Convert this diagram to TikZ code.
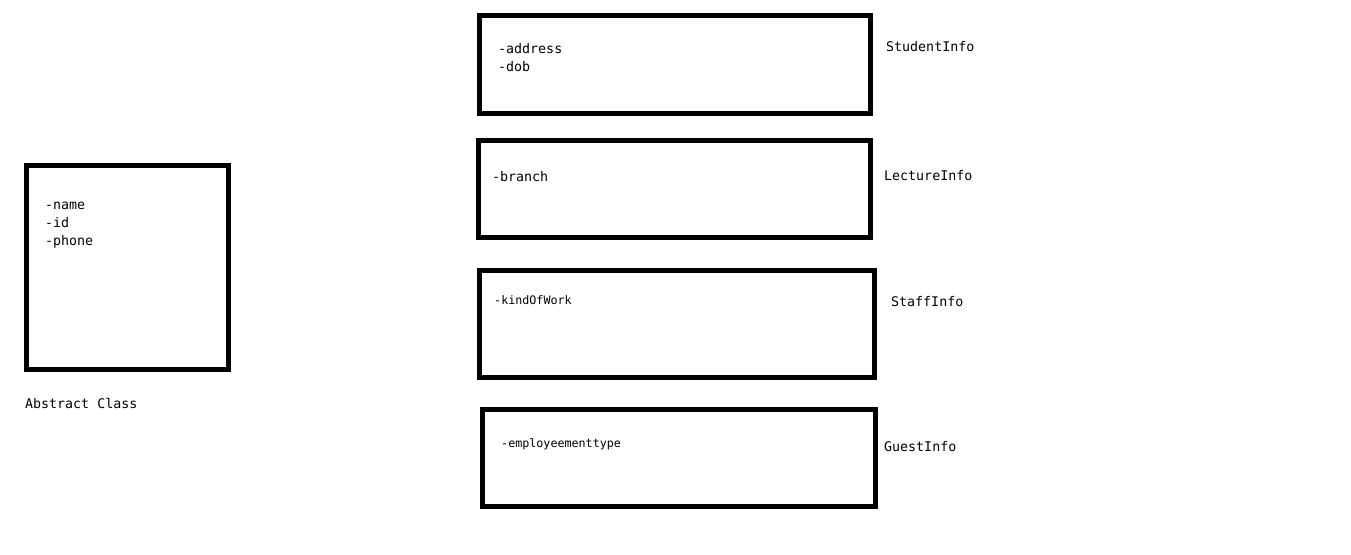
\documentclass[tikz,border=0pt]{standalone}
\usepackage{fontspec}
\setmonofont{DejaVu Sans Mono}
\usetikzlibrary{positioning}

\begin{document}
\begin{tikzpicture}[
  x=1pt, y=-1pt,
  classbox/.style={draw, line width=5pt, inner sep=0pt, outer sep=0pt},
  attr/.style={inner sep=0pt, align=left, anchor=west, font=\fontsize{13.3}{18}\selectfont\ttfamily},
  smallattr/.style={attr, font=\fontsize{11.7}{16}\selectfont\ttfamily},
  classname/.style={inner sep=0pt, anchor=west, font=\fontsize{13.3}{16}\selectfont\ttfamily}
]
\useasboundingbox (0,0) rectangle (1351,554);
% abstract class on the left
\node[classbox, minimum width=202pt, minimum height=204pt] (abs) at (127.5,267.5) {};
\node[attr] (absattr) at (45,225) {-name\\-id\\-phone};
\node[classname] (abslbl) at (25,403) {Abstract Class};
% subclasses
\node[classbox, minimum width=391pt, minimum height=98pt] (stu) at (675,64.5) {};
\node[attr] (stuattr) at (498,57.5) {-address\\-dob};
\node[classname] (stulbl) at (886,47) {StudentInfo};
\node[classbox, minimum width=392pt, minimum height=97pt] (lec) at (674.5,189) {};
\node[attr] (lecattr) at (492,177) {-branch};
\node[classname] (leclbl) at (884,176) {LectureInfo};
\node[classbox, minimum width=395pt, minimum height=107pt] (stf) at (677,324) {};
\node[smallattr] (stfattr) at (494,300) {-kindOfWork};
\node[classname] (stflbl) at (891,302) {StaffInfo};
\node[classbox, minimum width=393pt, minimum height=97pt] (gst) at (679,458) {};
\node[smallattr] (gstattr) at (501,444) {-employeementtype};
\node[classname] (gstlbl) at (884,447) {GuestInfo};
\end{tikzpicture}
\end{document}
